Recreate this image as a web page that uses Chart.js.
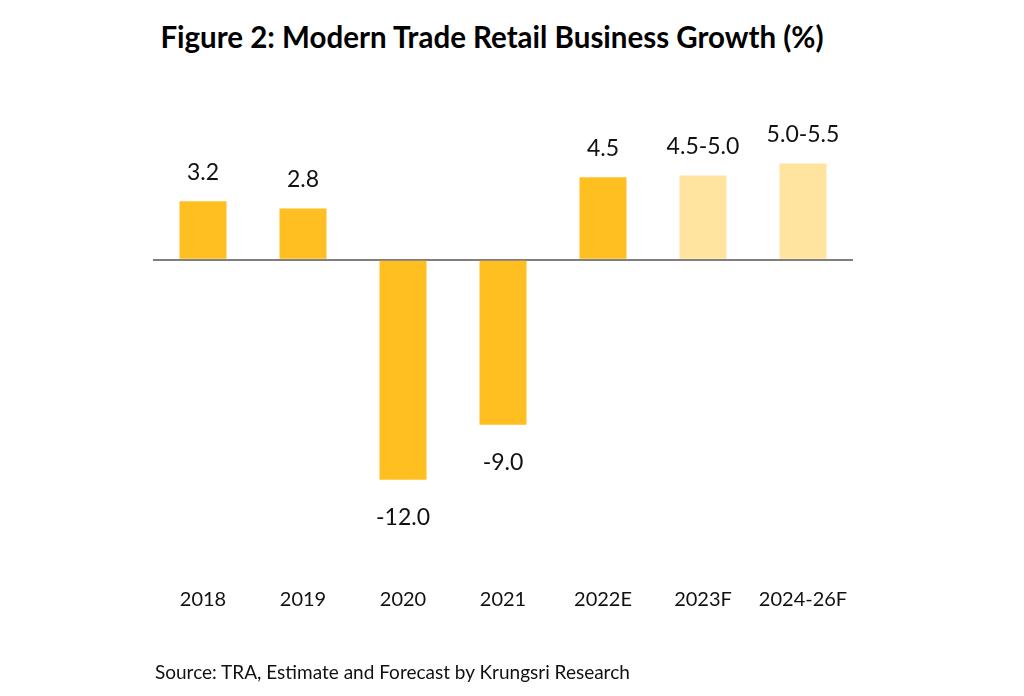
<!DOCTYPE html>
<html>
<head>
<meta charset="utf-8">
<script src="https://cdn.jsdelivr.net/npm/chart.js@4/dist/chart.umd.min.js"></script>
<style>
    html, body { margin: 0; padding: 0; background: #fff; }
    #wrap { position: relative; width: 1024px; height: 696px; }
    #title {
        position: absolute; left: 0; width: 984px; top: 19px;
        text-align: center; font: bold 29.5px Lato, sans-serif; color: #000;
    }
    #source {
        position: absolute; left: 155px; top: 660px;
        font: 19px Lato, sans-serif; color: #111;
    }
    canvas { position: absolute; left: 0; top: 0; }
</style>
</head>
<body>
<div id="wrap">
    <div id="title">Figure 2: Modern Trade Retail Business Growth (%)</div>
    <canvas id="growthChart" width="1024" height="696"></canvas>
    <div id="source">Source: TRA, Estimate and Forecast by Krungsri Research</div>
</div>
<script>
const categories = ["2018", "2019", "2020", "2021", "2022E", "2023F", "2024-26F"];
// bar heights (ranges plotted near their midpoint, as in the picture)
const growth = [3.2, 2.8, -12.0, -9.0, 4.5, 4.6, 5.25];
const valueLabels = ["3.2", "2.8", "-12.0", "-9.0", "4.5", "4.5-5.0", "5.0-5.5"];
const isForecast = [false, false, false, false, false, true, true];

const actualColor = "#FFBF20";
const forecastColor = "#FFE4A0";

/* Value labels above / below bars */
const valueLabelPlugin = {
    id: "valueLabels",
    afterDatasetsDraw(chart) {
        const { ctx } = chart;
        const meta = chart.getDatasetMeta(0);
        ctx.save();
        ctx.font = "23px Lato, sans-serif";
        ctx.fillStyle = "#111";
        ctx.textAlign = "center";
        ctx.textBaseline = "middle";
        meta.data.forEach((bar, i) => {
            const neg = growth[i] < 0;
            const y = neg ? bar.y + 38 : bar.y - 29;
            ctx.fillText(valueLabels[i], bar.x, y);
        });
        ctx.restore();
    }
};

new Chart(document.getElementById("growthChart"), {
    type: "bar",
    data: {
        labels: categories,
        datasets: [{
            data: growth,
            backgroundColor: isForecast.map(f => f ? forecastColor : actualColor),
            categoryPercentage: 1,
            barPercentage: 0.47
        }]
    },
    options: {
        responsive: false,
        animation: false,
        layout: { padding: { left: 153, right: 171, top: 131.5, bottom: 76.5 } },
        plugins: {
            legend: { display: false },
            tooltip: { enabled: false }
        },
        scales: {
            x: {
                grid: { display: false },
                border: { display: false },
                ticks: {
                    color: "#111",
                    font: { family: "Lato", size: 20 },
                    padding: 8
                }
            },
            y: {
                min: -17,
                max: 7,
                ticks: { display: false, stepSize: 1 },
                border: { display: false },
                grid: {
                    drawTicks: false,
                    color: c => c.tick.value === 0 ? "#7f7f7f" : "rgba(0,0,0,0)",
                    lineWidth: 2
                }
            }
        }
    },
    plugins: [valueLabelPlugin]
});
</script>
</body>
</html>
